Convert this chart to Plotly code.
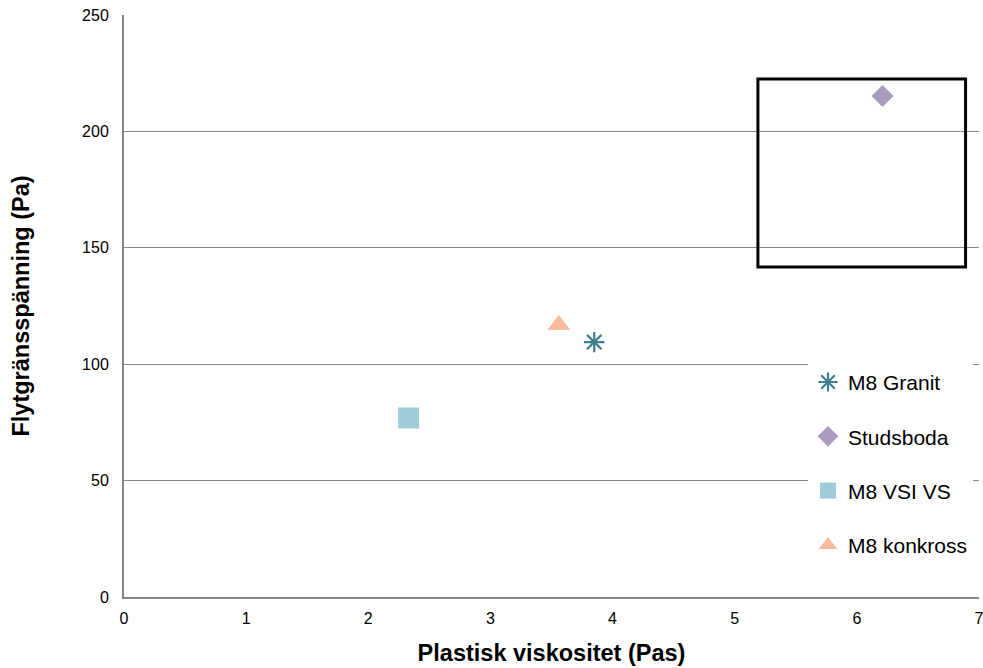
import plotly.graph_objects as go

# Measured samples: plastic viscosity (Pas) vs. yield stress (Pa)
names = ["M8 Granit", "Studsboda", "M8 VSI VS", "M8 konkross"]
viscosity = [3.85, 6.21, 2.33, 3.56]
yield_stress = [109.5, 215.2, 76.9, 116.8]
symbols = ["asterisk-open", "diamond", "square", "triangle-up"]
colors = ["#3f7e91", "#a99cc0", "#9fcbd9", "#f8bb9c"]
sizes = [17, 17, 21, 20]

# Highlight box around the outlier
box_x = [5.19, 6.89]
box_y = [141.7, 222.5]

x_ticks = [0, 1, 2, 3, 4, 5, 6, 7]
y_ticks = [0, 50, 100, 150, 200, 250]

fig = go.Figure()
for i, name in enumerate(names):
    marker = dict(symbol=symbols[i], size=sizes[i], color=colors[i])
    if symbols[i].endswith("open"):
        marker["line"] = dict(color=colors[i], width=2.2)
    else:
        marker["line"] = dict(width=0)
    fig.add_trace(go.Scatter(
        x=[viscosity[i]], y=[yield_stress[i]], mode="markers", name=name,
        marker=marker, legendgroup=name,
    ))

fig.add_shape(type="rect", xref="x", yref="y",
              x0=box_x[0], x1=box_x[1], y0=box_y[0], y1=box_y[1],
              line=dict(color="black", width=3))

fig.update_layout(
    width=983, height=668,
    margin=dict(l=124, r=4, t=15, b=71),
    paper_bgcolor="white", plot_bgcolor="white",
    font=dict(family="Liberation Sans, Arial, sans-serif", color="black"),
    legend=dict(x=0.8, y=0.404, xanchor="left", yanchor="top",
                bgcolor="white", font=dict(size=21),
                tracegroupgap=24, itemwidth=30),
    showlegend=True,
)
fig.update_xaxes(
    range=[0, 7], tickvals=x_ticks, showgrid=False, zeroline=False,
    showline=True, linecolor="#868686", linewidth=2, ticks="",
    tickfont=dict(size=16), ticklabelstandoff=6, ticklabeloverflow="allow",
    automargin=False,
    title=dict(text="<b>Plastisk viskositet (Pas)</b>", font=dict(size=23.5), standoff=18),
)
fig.update_yaxes(
    range=[0, 250], tickvals=y_ticks, showgrid=True, gridcolor="#868686", gridwidth=1.3,
    zeroline=False, showline=True, linecolor="#868686", linewidth=2, ticks="",
    tickfont=dict(size=16), ticklabelstandoff=10, ticklabeloverflow="allow",
    automargin=False,
    title=dict(text="<b>Flytgränsspänning (Pa)</b>", font=dict(size=23.5), standoff=46),
)

fig.write_html("out.html")
